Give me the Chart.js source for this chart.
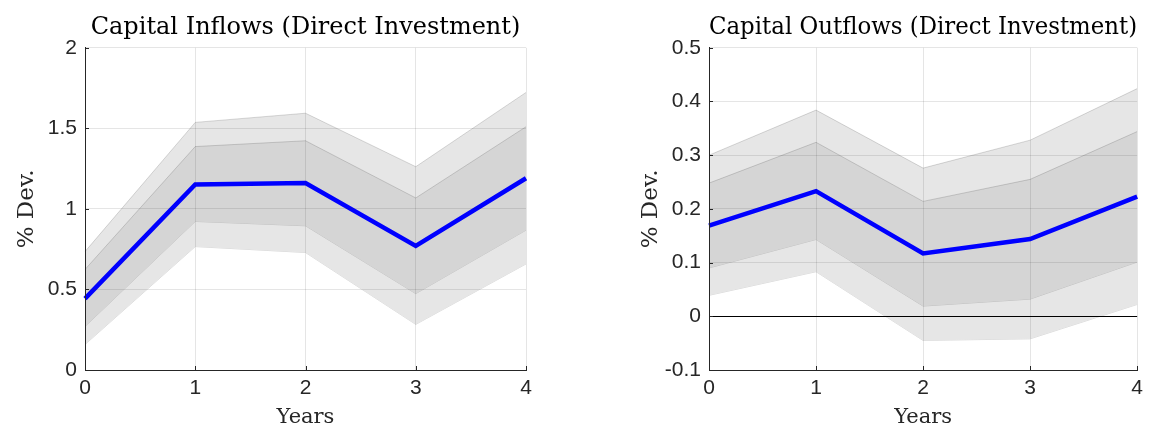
<!DOCTYPE html>
<html>
<head>
<meta charset="utf-8">
<script src="https://cdn.jsdelivr.net/npm/chart.js@4/dist/chart.umd.min.js"></script>
<style>
    body { margin: 0; background: #fff; }
    .panel { position: absolute; top: 0; height: 429px; }
    #left { left: 0; width: 540px; }
    #right { left: 600px; width: 549px; }
</style>
</head>
<body>
<div class="panel" id="left"><canvas id="inflowsChart"></canvas></div>
<div class="panel" id="right"><canvas id="outflowsChart"></canvas></div>
<script>
const years = ['0', '1', '2', '3', '4'];

// Capital inflows (direct investment), % deviation
const inflowsMedian = [0.443, 1.152, 1.160, 0.770, 1.190];
const inflowsOuterUpper = [0.735, 1.537, 1.594, 1.262, 1.723];
const inflowsOuterLower = [0.158, 0.766, 0.729, 0.283, 0.658];
const inflowsInnerUpper = [0.624, 1.387, 1.423, 1.068, 1.510];
const inflowsInnerLower = [0.270, 0.922, 0.895, 0.474, 0.868];
const inflowsTicks = [0, 0.5, 1, 1.5, 2];

// Capital outflows (direct investment), % deviation
const outflowsMedian = [0.169, 0.233, 0.117, 0.144, 0.223];
const outflowsOuterUpper = [0.300, 0.384, 0.276, 0.328, 0.424];
const outflowsOuterLower = [0.039, 0.083, -0.045, -0.042, 0.022];
const outflowsInnerUpper = [0.248, 0.324, 0.214, 0.255, 0.344];
const outflowsInnerLower = [0.090, 0.143, 0.019, 0.032, 0.101];
const outflowsTicks = [-0.1, 0, 0.1, 0.2, 0.3, 0.4, 0.5];

const AXIS_COLOR = '#262626';
const GRID_COLOR = 'rgba(38, 38, 38, 0.12)';
const SERIF = "'DejaVu Serif', 'Liberation Serif', serif";
const SANS = "'Liberation Sans', Arial, sans-serif";

// MATLAB style inward tick marks on the left and bottom axes
const inwardTicks = {
    id: 'inwardTicks',
    afterDraw(chart) {
        const ctx = chart.ctx;
        const { x, y } = chart.scales;
        const area = chart.chartArea;
        ctx.save();
        ctx.strokeStyle = AXIS_COLOR;
        ctx.lineWidth = 1;
        ctx.beginPath();
        x.ticks.forEach((t, i) => {
            const px = Math.round(x.getPixelForTick(i)) + 0.5;
            ctx.moveTo(px, area.bottom);
            ctx.lineTo(px, area.bottom - 4);
        });
        y.ticks.forEach((t, i) => {
            const py = Math.round(y.getPixelForTick(i)) + 0.5;
            ctx.moveTo(area.left, py);
            ctx.lineTo(area.left + 4, py);
        });
        ctx.stroke();
        ctx.restore();
    }
};

function bandSet(data, fill, color) {
    return {
        data: data,
        fill: fill,
        backgroundColor: color,
        borderColor: 'rgba(0, 0, 0, 0.15)',
        borderWidth: 1,
        pointRadius: 0,
        tension: 0
    };
}

function makeChart(canvasId, title, series, ticks, yAxisWidth, rightPad) {
    const [median, outerUp, outerLow, innerUp, innerLow] = series;
    new Chart(document.getElementById(canvasId), {
        type: 'line',
        data: {
            labels: years,
            datasets: [
                {
                    data: median,
                    borderColor: '#0000ff',
                    borderWidth: 4.5,
                    pointRadius: 0,
                    fill: false,
                    tension: 0
                },
                bandSet(innerUp, '+1', '#d5d5d5'),
                bandSet(innerLow, false, 'transparent'),
                bandSet(outerUp, '+1', '#e6e6e6'),
                bandSet(outerLow, false, 'transparent')
            ]
        },
        options: {
            responsive: true,
            maintainAspectRatio: false,
            animation: false,
            layout: { padding: { left: 0, right: rightPad, top: 0, bottom: 0 } },
            plugins: {
                legend: { display: false },
                tooltip: { enabled: false },
                title: {
                    display: true,
                    text: title,
                    fullSize: false,
                    color: '#000',
                    font: { family: SERIF, size: 24, weight: 'normal', lineHeight: 1.2 },
                    padding: { top: 13, bottom: 6 }
                }
            },
            scales: {
                x: {
                    offset: false,
                    afterFit(scale) { scale.height = 59; },
                    grid: { color: GRID_COLOR, drawTicks: false, z: 1 },
                    border: { color: AXIS_COLOR, width: 1, z: 2 },
                    ticks: {
                        color: AXIS_COLOR,
                        padding: 6,
                        maxRotation: 0,
                        font: { family: SANS, size: 21 }
                    },
                    title: {
                        display: true,
                        text: 'Years',
                        color: AXIS_COLOR,
                        font: { family: SERIF, size: 21, lineHeight: 1.2 },
                        padding: { top: 0, bottom: -1 }
                    }
                },
                y: {
                    min: ticks[0],
                    max: ticks[ticks.length - 1],
                    afterFit(scale) { scale.width = yAxisWidth; },
                    afterBuildTicks(scale) {
                        scale.ticks = ticks.map(v => ({ value: v }));
                    },
                    grid: {
                        drawTicks: false,
                        z: 1,
                        color: ctx => (ctx.tick && ctx.tick.value === 0 && ticks[0] < 0) ? '#000' : GRID_COLOR
                    },
                    border: { color: AXIS_COLOR, width: 1, z: 2 },
                    ticks: {
                        color: AXIS_COLOR,
                        padding: 8,
                        font: { family: SANS, size: 21 },
                        callback: v => String(Math.round(v * 10) / 10)
                    },
                    title: {
                        display: true,
                        text: '% Dev.',
                        color: AXIS_COLOR,
                        font: { family: SERIF, size: 23, lineHeight: 1.2 },
                        padding: { top: yAxisWidth - 72, bottom: 0 }
                    }
                }
            }
        },
        plugins: [inwardTicks]
    });
}

makeChart('inflowsChart', 'Capital Inflows (Direct Investment)',
    [inflowsMedian, inflowsOuterUpper, inflowsOuterLower, inflowsInnerUpper, inflowsInnerLower],
    inflowsTicks, 85, 14);

makeChart('outflowsChart', 'Capital Outflows (Direct Investment)',
    [outflowsMedian, outflowsOuterUpper, outflowsOuterLower, outflowsInnerUpper, outflowsInnerLower],
    outflowsTicks, 109, 7);
</script>
</body>
</html>
